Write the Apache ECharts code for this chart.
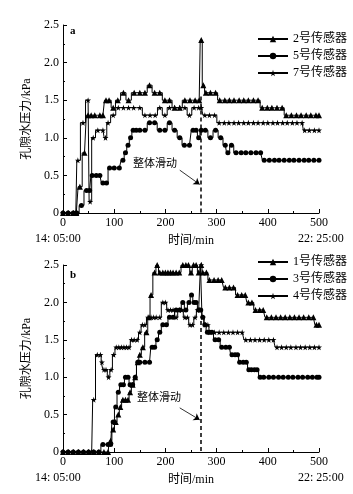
<!DOCTYPE html>
<html>
<head>
<meta charset="utf-8">
<script src="https://cdn.jsdelivr.net/npm/echarts@6/dist/echarts.min.js"></script>
<style>
html,body{margin:0;padding:0;background:#fff;}
#main{width:353px;height:494px;}
</style>
</head>
<body>
<div id="main"></div>
<script>
// panel a: sensors 2, 5, 7  (time in min, pressure in kPa)
var timeS2 = [0,10,20,26,33,42,49,55,62,72,78,84,90,98,107,118,128,139,150,160,169,179,189,199,208,218,228,238,248,258,266,270,274,279,288,298,306,316,325,334,344,353,362,372,381,389,399,408,418,428,436,446,456,465,475,484,494,500];
var presS2 = [0,0,0,0,0.35,0.8,1.3,1.3,1.3,1.3,1.3,1.5,1.5,1.4,1.5,1.6,1.5,1.6,1.6,1.6,1.7,1.6,1.6,1.5,1.5,1.4,1.4,1.5,1.5,1.5,1.5,2.3,1.7,1.6,1.6,1.6,1.5,1.5,1.5,1.5,1.5,1.5,1.5,1.5,1.5,1.4,1.4,1.4,1.4,1.4,1.3,1.3,1.3,1.3,1.3,1.3,1.3,1.3];
var timeS5 = [0,10,20,27,36,46,52,57,65,72,78,85,91,100,110,117,122,127,132,137,143,150,160,169,179,189,199,208,218,228,237,247,254,260,265,270,278,288,298,308,317,322,329,338,348,357,367,377,386,393,403,413,422,432,442,451,461,471,480,490,500];
var presS5 = [0,0,0,0,0.1,0.3,0.3,0.5,0.5,0.5,0.4,0.4,0.6,0.6,0.6,0.7,0.8,0.9,1.0,1.1,1.1,1.1,1.1,1.2,1.2,1.1,1.1,1.2,1.1,1.0,0.9,0.9,1.1,1.1,1.0,1.1,1.1,1.0,1.1,1.0,0.9,0.8,0.9,0.8,0.8,0.8,0.8,0.8,0.8,0.7,0.7,0.7,0.7,0.7,0.7,0.7,0.7,0.7,0.7,0.7,0.7];
var timeS7 = [0,10,20,25,29,39,49,53,59,68,78,83,88,98,108,118,128,138,150,160,170,180,189,199,208,218,228,238,247,256,265,270,277,286,296,305,315,324,334,343,353,362,372,381,391,400,410,419,429,438,448,457,467,472,481,491,500];
var presS7 = [0,0,0,0,0.7,1.2,1.5,0.15,1.0,1.1,1.1,1.0,1.2,1.3,1.4,1.4,1.4,1.4,1.4,1.3,1.3,1.3,1.4,1.3,1.4,1.4,1.4,1.4,1.3,1.4,1.4,1.4,1.3,1.3,1.3,1.2,1.2,1.2,1.2,1.2,1.2,1.2,1.2,1.2,1.2,1.2,1.2,1.2,1.2,1.2,1.2,1.2,1.2,1.1,1.1,1.1,1.1];

// panel b: sensors 1, 3, 4
var timeS1 = [0,10,20,30,40,50,60,70,80,88,93,98,103,108,112,117,122,127,131,136,141,146,150,156,163,168,172,179,184,189,195,200,205,210,215,221,227,234,240,245,250,255,260,265,270,273,280,286,295,303,310,317,325,333,341,349,356,362,369,376,384,391,398,407,416,425,434,443,452,461,470,480,489,495,500];
var presS1 = [0,0,0,0,0,0,0,0,0,0,0.15,0.3,0.4,0.5,0.6,0.7,0.7,0.7,0.8,0.9,1.0,1.2,1.3,1.4,1.6,1.8,2.1,2.4,2.5,2.4,2.4,2.4,2.4,2.4,2.4,2.4,2.4,2.5,2.5,2.5,2.4,2.5,2.5,2.4,2.5,2.4,2.4,2.3,2.3,2.3,2.3,2.2,2.2,2.2,2.1,2.1,2.1,2.0,2.0,1.9,1.9,1.9,1.8,1.8,1.8,1.8,1.8,1.8,1.8,1.8,1.8,1.8,1.8,1.7,1.7];
var timeS3 = [0,10,20,30,40,50,60,70,78,88,93,98,103,108,113,118,122,127,131,136,141,146,150,160,169,174,179,184,189,195,202,208,215,221,228,234,240,246,251,256,260,265,269,273,277,282,286,291,297,304,310,318,325,330,336,341,345,352,358,363,368,374,379,385,392,402,411,421,430,440,449,459,468,478,487,496,500];
var presS3 = [0,0,0,0,0,0,0,0,0.1,0.1,0.1,0.4,0.6,0.8,0.9,0.9,1.0,1.0,0.9,0.9,1.0,1.2,1.2,1.2,1.2,1.4,1.4,1.5,1.6,1.7,1.7,1.8,1.8,1.9,1.9,2.0,1.9,2.0,2.1,2.0,2.0,1.9,1.9,1.8,1.7,1.6,1.6,1.6,1.5,1.5,1.4,1.4,1.4,1.3,1.3,1.3,1.2,1.2,1.2,1.1,1.1,1.1,1.1,1.0,1.0,1.0,1.0,1.0,1.0,1.0,1.0,1.0,1.0,1.0,1.0,1.0,1.0];
var timeS4 = [0,10,20,30,40,50,56,60,67,73,76,80,84,89,94,99,104,109,114,119,124,129,134,139,145,150,155,160,166,172,177,182,189,195,200,205,210,215,221,227,232,238,243,248,253,258,263,267,270,273,278,283,287,296,305,314,323,332,341,350,357,366,375,384,393,402,411,418,427,436,445,455,464,473,482,491,500];
var presS4 = [0,0,0,0,0,0,0,0.7,1.3,1.3,1.2,1.1,1.1,1.0,1.1,1.3,1.4,1.4,1.4,1.4,1.4,1.4,1.5,1.5,1.5,1.6,1.7,1.7,1.8,1.8,1.8,1.8,1.8,2.0,2.0,1.9,1.9,1.9,1.8,1.9,1.9,1.8,1.8,1.7,1.7,1.8,1.9,1.9,2.5,1.8,1.7,1.7,1.6,1.6,1.6,1.6,1.6,1.6,1.6,1.6,1.5,1.5,1.5,1.5,1.5,1.5,1.5,1.4,1.4,1.4,1.4,1.4,1.4,1.4,1.4,1.4,1.4];

var slideTime = 270;

var serif = '"Liberation Serif", "Noto Sans CJK SC", serif';
var starPath = 'path://M50,0 L61,35 L98,35 L68,57 L79,91 L50,70 L21,91 L32,57 L2,35 L39,35 Z';

function sensor(name, t, v, symbol, size, idx) {
	return {
		type: 'line',
		name: name,
		xAxisIndex: idx,
		yAxisIndex: idx,
		step: 'middle',
		symbol: symbol,
		symbolSize: size,
		showAllSymbol: true,
		data: t.map(function (x, i) { return [x, v[i]]; }),
		lineStyle: { color: '#000', width: 1 },
		itemStyle: { color: '#000' },
		emphasis: { disabled: true },
		animation: false
	};
}

// dashed slide line + arrow from the label
function slideMarks(top, arrowFrom, arrowTo) {
	return {
		silent: true,
		symbol: ['none', 'none'],
		label: { show: false },
		data: [
			[{ coord: [slideTime, top], lineStyle: { type: [4, 3], width: 1.5, color: '#000' } }, { coord: [slideTime, 0] }],
			[{ coord: arrowFrom, symbol: 'none', lineStyle: { type: 'solid', width: 0.8, color: '#000' } }, { coord: arrowTo, symbol: 'arrow', symbolSize: 6 }]
		]
	};
}

function xAxis(idx) {
	return {
		type: 'value', gridIndex: idx, min: 0, max: 500, interval: 100,
		name: '时间/min', nameLocation: 'middle', nameGap: 22,
		nameTextStyle: { fontFamily: serif, fontSize: 12, color: '#000' },
		axisLine: { lineStyle: { color: '#000', width: 1 } },
		axisTick: { inside: true, length: 4, lineStyle: { color: '#000' } },
		minorTick: { show: true, splitNumber: 2, length: 2, lineStyle: { color: '#000' } },
		axisLabel: { margin: 4, fontFamily: serif, fontSize: 12, color: '#000' },
		splitLine: { show: false }
	};
}

function yAxis(idx) {
	return {
		type: 'value', gridIndex: idx, min: 0, max: 2.5, interval: 0.5,
		name: '孔隙水压力/kPa', nameLocation: 'middle', nameGap: 27,
		nameTextStyle: { fontFamily: serif, fontSize: 12, color: '#000' },
		axisLine: { show: true, lineStyle: { color: '#000', width: 1 } },
		axisTick: { show: true, inside: true, length: 4, lineStyle: { color: '#000' } },
		minorTick: { show: true, splitNumber: 2, length: 2, lineStyle: { color: '#000' } },
		axisLabel: {
			margin: 4, fontFamily: serif, fontSize: 12, color: '#000',
			formatter: function (v) { return v === 0 ? '0' : v.toFixed(1); }
		},
		splitLine: { show: false }
	};
}

function legend(names, top) {
	return {
		data: names, orient: 'vertical', left: 252, top: top,
		itemWidth: 30, itemHeight: 8, itemGap: 5,
		textStyle: { fontFamily: serif, fontSize: 12, color: '#000' },
		selectedMode: false
	};
}

function txt(s, left, top, size, bold) {
	return { type: 'text', left: left, top: top, silent: true,
		style: { text: s, fill: '#000', font: (bold ? 'bold ' : '') + size + 'px ' + serif } };
}

var chart = echarts.init(document.getElementById('main'), null, { renderer: 'canvas' });

var s2 = sensor('2号传感器', timeS2, presS2, 'triangle', 6, 0);
var s5 = sensor('5号传感器', timeS5, presS5, 'circle', 5, 0);
var s7 = sensor('7号传感器', timeS7, presS7, starPath, 6, 0);
var s1 = sensor('1号传感器', timeS1, presS1, 'triangle', 6, 1);
var s3 = sensor('3号传感器', timeS3, presS3, 'circle', 5, 1);
var s4 = sensor('4号传感器', timeS4, presS4, starPath, 6, 1);
s5.markLine = slideMarks(1.55, [228, 0.57], [267, 0.38]);
s3.markLine = slideMarks(1.75, [228, 0.59], [267, 0.43]);

var option = {
	backgroundColor: '#fff',
	animation: false,
	grid: [
		{ left: 63, right: 34, top: 25, height: 188 },
		{ left: 63, right: 34, top: 265, height: 187 }
	],
	xAxis: [xAxis(0), xAxis(1)],
	yAxis: [yAxis(0), yAxis(1)],
	legend: [
		legend(['2号传感器', '5号传感器', '7号传感器'], 28),
		legend(['1号传感器', '3号传感器', '4号传感器'], 251)
	],
	graphic: [
		txt('a', 70, 26, 11, true),
		txt('b', 70, 270, 11, true),
		txt('14: 05:00', 35, 233, 12),
		txt('22: 25:00', 298, 233, 12),
		txt('14: 05:00', 35, 472, 12),
		txt('22: 25:00', 298, 472, 12),
		txt('整体滑动', 133, 159, 11),
		txt('整体滑动', 137, 393, 11)
	],
	series: [s2, s5, s7, s1, s3, s4]
};

chart.setOption(option);
</script>
</body>
</html>
